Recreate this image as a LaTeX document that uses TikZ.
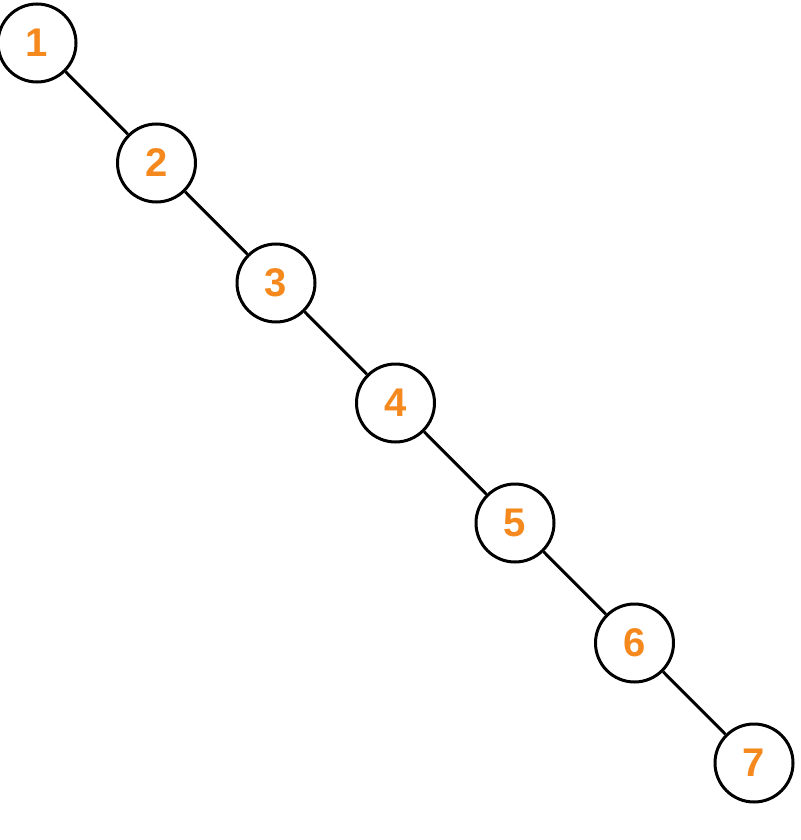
\documentclass[tikz,border=0pt]{standalone}
\usepackage{fontspec}
\setmainfont{Liberation Sans}
\usetikzlibrary{positioning}
\definecolor{numorange}{RGB}{245,137,30}

\begin{document}
\begin{tikzpicture}[x=1pt,y=1pt,node distance=120pt and 119.5pt,on grid,
    vertex/.style={circle,draw=black,line width=3pt,fill=white,minimum size=78pt,inner sep=0pt,
      text=numorange,font=\fontsize{40}{42}\selectfont\bfseries}]
       \useasboundingbox (0,0) rectangle (800,-840);
       \node [vertex] (n_1) at (37,-43) {1};
       \node [vertex, below right=of n_1] (n_2) {2};
       \node [vertex, below right=of n_2] (n_3) {3};
       \node [vertex, below right=of n_3] (n_4) {4};
       \node [vertex, below right=of n_4] (n_5) {5};
       \node [vertex, below right=of n_5] (n_6) {6};
       \node [vertex, below right=of n_6] (n_7) {7};
        \path[draw,line width=3pt]
        (n_1) -- (n_2)
        (n_2) -- (n_3)
        (n_3) -- (n_4)
        (n_4) -- (n_5)
        (n_5) -- (n_6)
        (n_6) -- (n_7);
    \end{tikzpicture}
\end{document}
